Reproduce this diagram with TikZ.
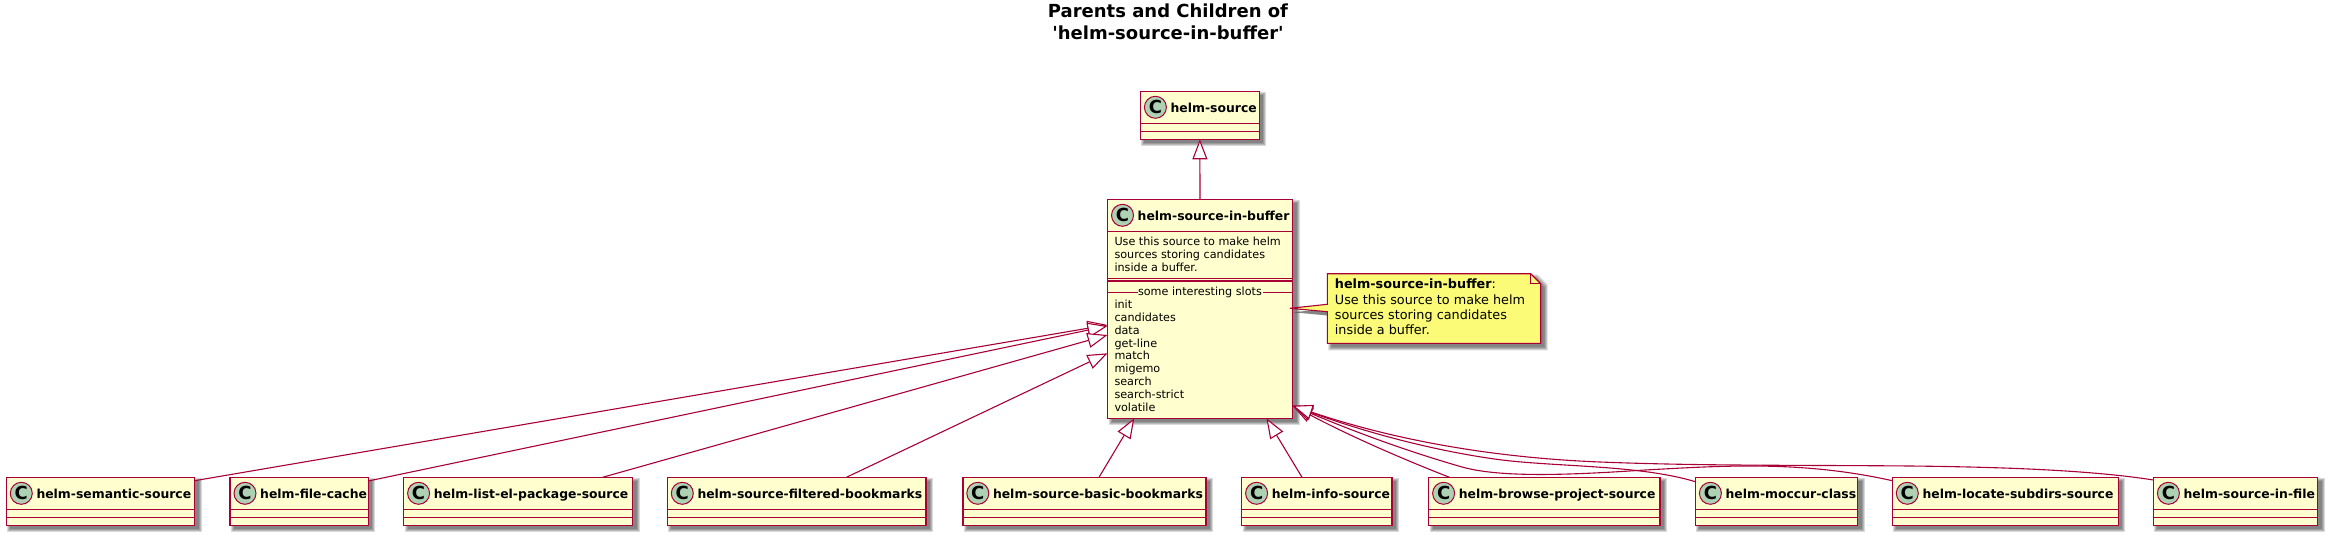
\documentclass[tikz,border=0pt]{standalone}
\usepackage{fontspec}
\setmainfont{DejaVu Sans}
\newfontfamily\plainfont{DejaVu Sans}
\usetikzlibrary{arrows.meta,calc}
\definecolor{umlred}{HTML}{A80036}
\definecolor{umlfill}{HTML}{FEFECE}
\definecolor{umlspot}{HTML}{ADD1B2}
\definecolor{umlnote}{HTML}{FBFB77}
\tikzset{
  x=1pt,y=-1pt,
  classbox/.style={draw=umlred,fill=umlfill,line width=1.5pt,inner sep=0pt,outer sep=0pt,rectangle},
  sepline/.style={draw=umlred,line width=1.5pt},
  spot/.style={circle,draw=umlred,fill=umlspot,line width=1pt,minimum size=22pt,inner sep=0pt,font=\fontsize{18}{18}\selectfont\bfseries},
  cname/.style={anchor=base west,inner sep=0pt,font=\fontsize{12.4}{14}\selectfont\bfseries,text=black},
  member/.style={anchor=base west,inner sep=0pt,font=\fontsize{11.2}{12}\selectfont,text=black},
  notetext/.style={anchor=base west,inner sep=0pt,font=\fontsize{12.8}{14}\selectfont,text=black},
  titletext/.style={anchor=base,inner sep=0pt,font=\plainfont\fontsize{18}{19.5}\selectfont\bfseries,text=black},
  inherit/.style={draw=umlred,line width=1.1pt,-{Triangle[open,length=20pt,width=15pt,fill=white,line width=1.1pt]}},
}
\newcommand{\softshadow}[4]{%
  \foreach \g in {3,2,1,0}{%
    \fill[black,opacity=0.15] ({#1+4-\g},{#3+4-\g}) rectangle ({#2+4+\g},{#4+4+\g});}}
\newcommand{\umlclass}[6]{%
  \softshadow{#2}{#3}{#4}{#5}%
  \pgfmathsetmacro{\cw}{#3-#2}\pgfmathsetmacro{\ch}{#5-#4}%
  \node[classbox,minimum width=\cw pt,minimum height=\ch pt] (#1) at ({(#2+#3)/2},{(#4+#5)/2}) {};
  \node[spot] (#1spot) at ({#2+15},{#4+16}) {C};
  \node[cname] (#1name) at ({#2+30},{#4+21}) {#6};
  \draw[sepline] (#2,#4+32) -- (#3,#4+32);
}
\newcommand{\sections}[3]{%
  \draw[sepline] (#1,#3+40) -- (#2,#3+40);
}
\begin{document}
\begin{tikzpicture}
\useasboundingbox (0,0) rectangle (2327,535);
\fill[white] (0,0) rectangle (2327,535);

\node[titletext] (t1) at (1168,17.5) {Parents and Children of};
\node[titletext] (t2) at (1168,39.5) {'helm-source-in-buffer'};

% parent
\umlclass{hs}{1140.4}{1259.3}{91.3}{139.3}{helm-source}
\sections{1140.4}{1259.3}{91.3}

% main
\umlclass{hib}{1107.5}{1292.5}{199.3}{418.3}{helm-source-in-buffer}
\node[member] (d1) at (1114.3,245.5) {Use this source to make helm};
\node[member] (d2) at (1114.3,258.5) {sources storing candidates};
\node[member] (d3) at (1114.3,271.5) {inside a buffer.};
\draw[sepline] (1107.5,278.5) -- (1292.5,278.5);
\draw[sepline] (1107.5,281) -- (1292.5,281);
\draw[sepline] (1107.5,292.3) -- (1137.5,292.3);
\draw[sepline] (1263,292.3) -- (1292.5,292.3);
\node[member] (sl) at (1137.8,295) {some interesting slots};
\node[member] (m1) at (1114.3,308) {init};
\node[member] (m2) at (1114.3,321) {candidates};
\node[member] (m3) at (1114.3,334) {data};
\node[member] (m4) at (1114.3,347) {get-line};
\node[member] (m5) at (1114.3,359) {match};
\node[member] (m6) at (1114.3,372) {migemo};
\node[member] (m7) at (1114.3,385) {search};
\node[member] (m8) at (1114.3,398) {search-strict};
\node[member] (m9) at (1114.3,411) {volatile};

% children
\umlclass{c1}{6.3}{194.6}{477.3}{525.3}{helm-semantic-source}\sections{6.3}{194.6}{477.3}
\umlclass{c2}{230}{368.3}{477.3}{525.3}{helm-file-cache}\sections{230}{368.3}{477.3}
\umlclass{c3}{403.6}{632.6}{477.3}{525.3}{helm-list-el-package-source}\sections{403.6}{632.6}{477.3}
\umlclass{c4}{667.3}{926}{477.3}{525.3}{helm-source-filtered-bookmarks}\sections{667.3}{926}{477.3}
\umlclass{c5}{962.8}{1206}{477.3}{525.3}{helm-source-basic-bookmarks}\sections{962.8}{1206}{477.3}
\umlclass{c6}{1241.6}{1392.2}{477.3}{525.3}{helm-info-source}\sections{1241.6}{1392.2}{477.3}
\umlclass{c7}{1428.6}{1660}{477.3}{525.3}{helm-browse-project-source}\sections{1428.6}{1660}{477.3}
\umlclass{c8}{1695.4}{1857.7}{477.3}{525.3}{helm-moccur-class}\sections{1695.4}{1857.7}{477.3}
\umlclass{c9}{1892.3}{2118.4}{477.3}{525.3}{helm-locate-subdirs-source}\sections{1892.3}{2118.4}{477.3}
\umlclass{c10}{2153.4}{2317.7}{477.3}{525.3}{helm-source-in-file}\sections{2153.4}{2317.7}{477.3}

% note
\foreach \g in {3,2,1,0}{%
  \fill[black,opacity=0.15] (1331.3-\g,277.7-\g) -- (1534.7+\g,277.7-\g) -- (1544.7+\g,287.7-\g) -- (1544.7+\g,347.3+\g) -- (1331.3-\g,347.3+\g) -- (1331.3-\g,315.7) -- (1294,312.3) -- (1331.3-\g,308.3) -- cycle;}
\path[draw=umlred,fill=umlnote,line width=1.1pt]
  (1327.3,273.7) -- (1530.7,273.7) -- (1540.7,283.7) -- (1540.7,343.3) -- (1327.3,343.3)
  -- (1327.3,311.7) -- (1290,308.3) -- (1327.3,304.3) -- cycle;
\draw[draw=umlred,line width=1.1pt] (1530.7,273.7) -- (1530.7,283.7) -- (1540.7,283.7);
\node[notetext] (n1) at (1334.7,288.8) {\textbf{helm-source-in-buffer}:};
\node[notetext] (n2) at (1334.7,304.5) {Use this source to make helm};
\node[notetext] (n3) at (1334.7,319.5) {sources storing candidates};
\node[notetext] (n4) at (1334.7,334.5) {inside a buffer.};

% connectors
\draw[inherit] (hib.north) -- (hs.south);
\draw[inherit] ([yshift=-3.4pt]c1.north east) -- ([yshift=-125.6pt]hib.north west);
\draw[inherit] ([yshift=-3.7pt]c2.north east) -- ([yshift=-126.7pt]hib.north west);
\draw[inherit] ([xshift=-30pt]c3.north east) -- ([yshift=-135.7pt]hib.north west);
\draw[inherit] ([xshift=-79.6pt]c4.north east) -- ([yshift=-154pt]hib.north west);
\draw[inherit] ([xshift=136.2pt]c5.north west) -- ([xshift=26.8pt]hib.south west);
\draw[inherit] ([xshift=60.4pt]c6.north west) -- ([xshift=-26.1pt]hib.south east);
\draw[inherit] ([xshift=20.9pt]c7.north west) .. controls (1400,458) and (1350,436) .. ([yshift=12.6pt]hib.south east);
\draw[inherit] ([yshift=-4.4pt]c8.north west) .. controls (1640,465) and (1560,467) .. (1502,460)
  .. controls (1440,452) and (1370,434) .. ([yshift=12.6pt]hib.south east);
\draw[inherit] ([yshift=-3.4pt]c9.north west) .. controls (1800,460) and (1720,466) .. (1645,470)
  .. controls (1570,475) and (1500,478) .. (1461,466.7)
  .. controls (1410,452) and (1360,434) .. ([yshift=12.6pt]hib.south east);
\draw[inherit] ([yshift=-2.7pt]c10.north west) .. controls (2090,470) and (2000,467) .. (1910,466)
  .. controls (1800,465) and (1700,466) .. (1600,462)
  .. controls (1500,458) and (1400,442) .. ([yshift=12.6pt]hib.south east);
\end{tikzpicture}
\end{document}
